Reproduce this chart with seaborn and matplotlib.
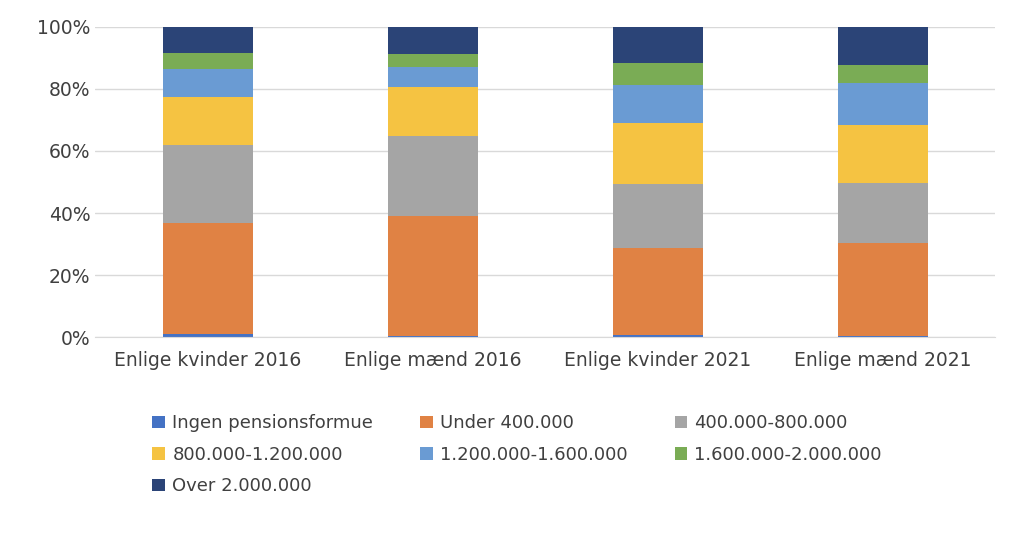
import matplotlib
matplotlib.use("Agg")
import matplotlib.pyplot as plt
import seaborn as sns
import numpy as np

sns.set_style("white")
plt.rcParams['font.family'] = ['DejaVu Sans']

categories = ["Enlige kvinder 2016", "Enlige mænd 2016", "Enlige kvinder 2021", "Enlige mænd 2021"]
series = ["Ingen pensionsformue", "Under 400.000", "400.000-800.000", "800.000-1.200.000",
          "1.200.000-1.600.000", "1.600.000-2.000.000", "Over 2.000.000"]
ingen = [1.0, 0.2, 0.7, 0.2]
under400 = [35.8, 38.8, 28.0, 30.1]
s400_800 = [25.1, 25.8, 20.7, 19.4]
s800_1200 = [15.5, 15.8, 19.6, 18.7]
s1200_1600 = [9.1, 6.5, 12.3, 13.5]
s1600_2000 = [5.1, 4.2, 7.1, 5.8]
over2000 = [8.4, 8.7, 11.6, 12.3]
values = [ingen, under400, s400_800, s800_1200, s1200_1600, s1600_2000, over2000]
colors = ["#4472C4", "#E08244", "#A5A5A5", "#F5C342", "#6A9BD3", "#7AAC55", "#2B4477"]

fig = plt.figure(figsize=(10.24, 5.49), dpi=100)
ax = fig.add_axes([0.093, 0.386, 0.879, 0.565])
bottom = np.zeros(len(categories))
for name, v, c in zip(series, values, colors):
    sns.barplot(x=categories, y=v, bottom=bottom, color=c, width=0.4, ax=ax, label=name,
                saturation=1, linewidth=0, legend=False)
    bottom += np.array(v)
ax.set_ylim(0, 100)
ax.set_yticks(range(0, 101, 20))
ax.set_yticklabels([f"{t}%" for t in range(0, 101, 20)])
ax.yaxis.grid(True, color="#d9d9d9", linewidth=1)
ax.set_axisbelow(True)
for s in ["top", "right", "left"]:
    ax.spines[s].set_visible(False)
ax.spines["bottom"].set_color("#d9d9d9")
ax.tick_params(axis="both", labelsize=13.5, colors="#404040", length=0)
ax.tick_params(axis="x", pad=10)
ax.set_xlim(-0.5, 3.5)
lg = ax.get_legend()
if lg is not None:
    lg.remove()
h, l = ax.get_legend_handles_labels()
order = [0, 3, 6, 1, 4, 2, 5]
fig.legend([h[i] for i in order], [l[i] for i in order], loc="upper left",
           bbox_to_anchor=(0.133, 0.275), ncol=3, frameon=False,
           fontsize=13, handlelength=0.7, handleheight=0.7, columnspacing=2.6,
           labelspacing=0.75, handletextpad=0.4, labelcolor="#404040")
fig.savefig("out.png", dpi=100)
